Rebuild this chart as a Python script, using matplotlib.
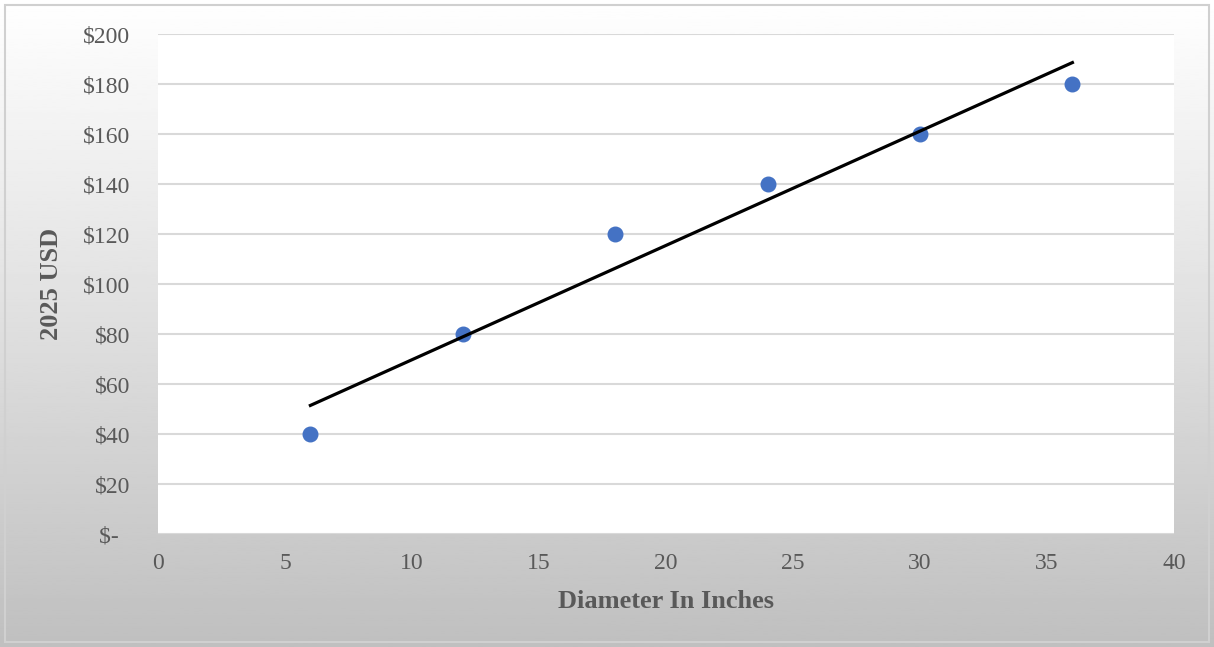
import matplotlib
matplotlib.use("Agg")
import matplotlib.pyplot as plt
import numpy as np
from matplotlib.patches import Rectangle

# Price by pipe diameter
diametro = [6, 12, 18, 24, 30, 36]
precio = [40, 80, 120, 140, 160, 180]
ticks_x = [0, 5, 10, 15, 20, 25, 30, 35, 40]
ticks_y = [0, 20, 40, 60, 80, 100, 120, 140, 160, 180, 200]

plt.rcParams["font.family"] = ["Liberation Serif", "DejaVu Serif"]
gris = "#595959"

fig = plt.figure(figsize=(12.14, 6.47), dpi=100)

# fondo degradado del grafico
fondo = fig.add_axes([0, 0, 1, 1], zorder=0)
grad = np.linspace(1.0, 0.75, 256).reshape(-1, 1)
fondo.imshow(grad, cmap="gray", vmin=0, vmax=1, aspect="auto",
             extent=[0, 1, 0, 1], origin="upper")
fondo.add_patch(Rectangle((5 / 1214, 5 / 647), 1204 / 1214, 637 / 647,
                          fill=False, edgecolor="#d0d0d0", linewidth=1.5,
                          transform=fondo.transAxes))
fondo.set_xlim(0, 1)
fondo.set_ylim(0, 1)
fondo.axis("off")

ax = fig.add_axes([158 / 1214, 113 / 647, 1016 / 1214, 500 / 647], zorder=1)
ax.set_facecolor("white")

ax.scatter(diametro, precio, s=110, color="#4472C4", zorder=3)

# linea de tendencia lineal
m, b = np.polyfit(diametro, precio, 1)
xs = np.array([min(diametro), max(diametro)])
ax.plot(xs, m * xs + b, color="black", linewidth=2.3, zorder=4)

ax.set_xlim(0, 40)
ax.set_ylim(0, 200)
ax.set_xticks(ticks_x)
ax.set_yticks(ticks_y)
ax.set_yticklabels(["$-  " if v == 0 else f"${v}" for v in ticks_y])
ax.tick_params(length=0, labelsize=17, colors=gris)
ax.tick_params(axis="y", pad=20)
ax.tick_params(axis="x", pad=14)
ax.grid(axis="y", color="#d9d9d9", linewidth=1.5, zorder=0)
ax.set_axisbelow(True)
for s in ax.spines.values():
    s.set_visible(False)

ax.set_xlabel("Diameter In Inches", fontsize=19, fontweight="bold", color=gris, labelpad=11)
ax.set_ylabel("2025 USD", fontsize=19, fontweight="bold", color=gris, labelpad=14)

plt.savefig("out.png", dpi=100)
plt.close()
